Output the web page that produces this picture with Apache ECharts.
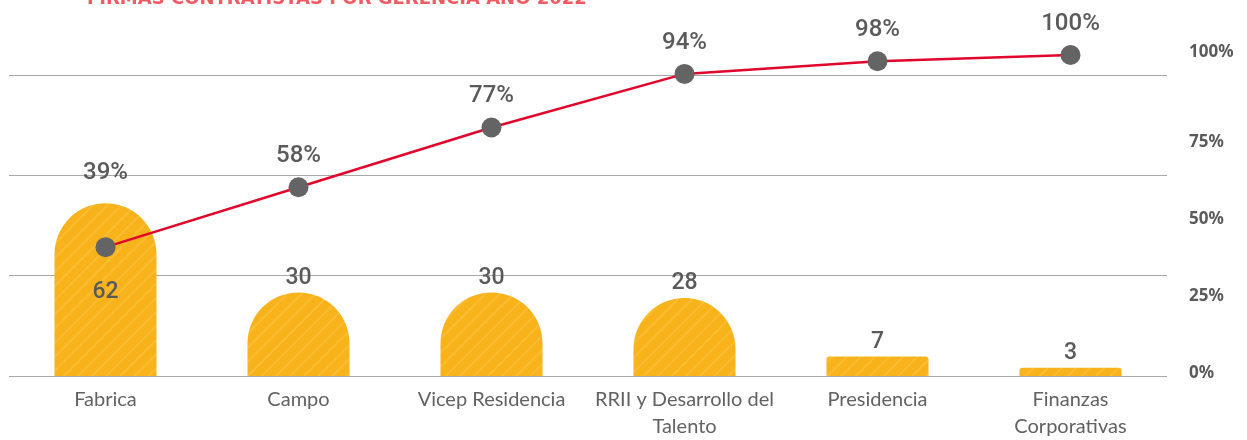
<!DOCTYPE html>
<html>
<head>
<meta charset="utf-8">
<script src="https://cdn.jsdelivr.net/npm/echarts@6/dist/echarts.min.js"></script>
<style>
  html, body { margin: 0; padding: 0; background: #ffffff; }
  #chart { width: 1247px; height: 440px; }
</style>
</head>
<body>
<div id="chart"></div>
<script>
// Firmas contratistas por gerencia, año 2022 (Pareto)
const gerencias = ['Fabrica', 'Campo', 'Vicep Residencia', 'RRII y Desarrollo del\nTalento', 'Presidencia', 'Finanzas\nCorporativas'];
const firmas = [62, 30, 30, 28, 7, 3];
const acumulado = [39, 58, 77, 94, 98, 100];
const tituloTexto = 'FIRMAS CONTRATISTAS POR GERENCIA AÑO 2022';

const narrow = 'Roboto, "Liberation Sans Narrow", sans-serif';
const gris = '#5a5a5a';
const amarillo = '#F8B31B';

const chart = echarts.init(document.getElementById('chart'), null, { renderer: 'canvas' });

const hiddenCat = (gridIndex) => ({
  type: 'category', gridIndex, data: gerencias, show: false, boundaryGap: true
});

chart.setOption({
  animation: false,
  backgroundColor: '#ffffff',
  title: {
    text: tituloTexto,
    left: 82,
    top: -15,
    textStyle: { fontFamily: '"DejaVu Sans", sans-serif', fontSize: 18, fontWeight: 'bold', color: '#EF5A63' }
  },
  grid: [
    { left: 9, right: 80, top: 75, bottom: 64 },   // bars + guide lines
    { left: 9, right: 80, top: 55, bottom: 70 },   // cumulative line
    { left: 9, right: 80, top: 65, bottom: 67 }    // percentage scale on the right
  ],
  xAxis: [
    {
      type: 'category', gridIndex: 0, data: gerencias,
      axisLine: { show: false }, axisTick: { show: false },
      axisLabel: {
        interval: 0, margin: 10, fontSize: 20, lineHeight: 27,
        color: '#626262', fontFamily: 'Lato, "Open Sans", sans-serif'
      }
    },
    hiddenCat(1),
    hiddenCat(2)
  ],
  yAxis: [
    {
      type: 'value', gridIndex: 0, min: 0, max: 3, interval: 1,
      axisLabel: { show: false }, axisLine: { show: false }, axisTick: { show: false },
      splitLine: { show: true, lineStyle: { color: '#a8a8a8', width: 1.2 } }
    },
    {
      type: 'value', gridIndex: 0, min: 0, max: 108, show: false,
      splitLine: { show: false }
    },
    {
      type: 'value', gridIndex: 1, min: 0, max: 100, show: false,
      splitLine: { show: false }
    },
    {
      type: 'value', gridIndex: 2, position: 'right', min: 0, max: 100, interval: 25,
      axisLine: { show: false }, axisTick: { show: false }, splitLine: { show: false },
      axisLabel: {
        margin: 22, align: 'left', color: gris,
        fontFamily: '"Noto Sans", "Open Sans", sans-serif', fontSize: 17, fontWeight: 'bold',
        formatter: (v) => v === 100 ? '{hi|' + v + '%}' : v + '%',
        rich: {
          hi: {
            padding: [0, 0, 26, 0], color: gris,
            fontFamily: '"Noto Sans", "Open Sans", sans-serif', fontSize: 17, fontWeight: 'bold'
          }
        }
      }
    }
  ],
  series: [
    {
      name: 'Firmas',
      type: 'bar',
      xAxisIndex: 0,
      yAxisIndex: 1,
      barWidth: 102,
      z: 2,
      itemStyle: {
        color: amarillo,
        decal: {
          symbol: 'rect', symbolSize: 1,
          color: 'rgba(255, 236, 170, 0.16)',
          dashArrayX: [1, 0], dashArrayY: [2, 8],
          rotation: -Math.PI / 4
        }
      },
      label: {
        show: true, position: 'top', distance: 3,
        fontFamily: narrow, fontSize: 23, fontWeight: 500, color: gris
      },
      data: firmas.map((v, i) => ({
        value: v,
        itemStyle: { borderRadius: v > 10 ? [51, 51, 0, 0] : [3, 3, 0, 0] },
        label: i === 0 ? { position: 'insideTop', distance: 78 } : {}
      }))
    },
    {
      name: 'Acumulado',
      type: 'line',
      xAxisIndex: 1,
      yAxisIndex: 2,
      z: 5,
      clip: false,
      symbol: 'circle',
      symbolSize: 20,
      lineStyle: { color: '#E1062C', width: 2.5 },
      itemStyle: { color: '#646464' },
      label: {
        show: true, position: 'top', distance: 9,
        fontFamily: narrow, fontSize: 24, fontWeight: 500, color: gris,
        formatter: (p) => p.value + '%'
      },
      data: acumulado.map((v, i) => i === 0 ? { value: v, label: { distance: 52 } } : v)
    }
  ]
});
</script>
</body>
</html>
